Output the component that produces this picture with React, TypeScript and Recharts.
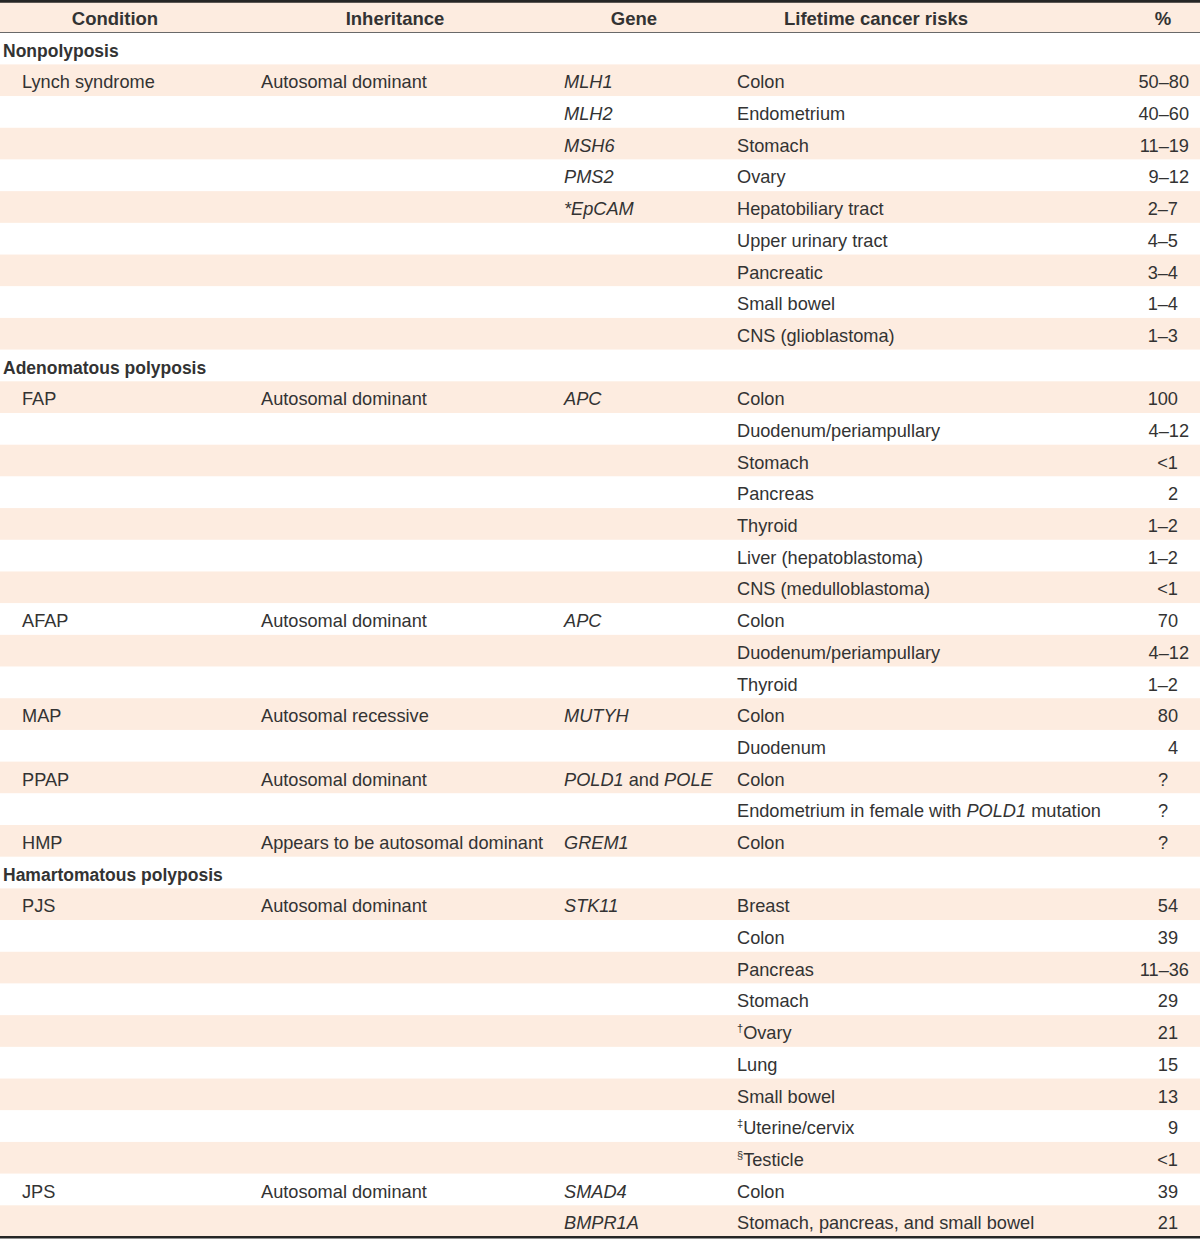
import React from "react";
import { BarChart, Bar, XAxis, YAxis, LabelList } from "recharts";

// ---------- data ----------
const headerLabels = ["Condition", "Inheritance", "Gene", "Lifetime cancer risks", "%"];

const sectionTitles = ["Nonpolyposis", "Adenomatous polyposis", "Hamartomatous polyposis"];

const conditions = [
  "Nonpolyposis", "Lynch syndrome", "", "", "", "", "", "", "", "",
  "Adenomatous polyposis", "FAP", "", "", "", "", "", "",
  "AFAP", "", "", "MAP", "", "PPAP", "", "HMP",
  "Hamartomatous polyposis", "PJS", "", "", "", "", "", "", "", "",
  "JPS", "",
];

const inheritance = [
  "", "Autosomal dominant", "", "", "", "", "", "", "", "",
  "", "Autosomal dominant", "", "", "", "", "", "",
  "Autosomal dominant", "", "", "Autosomal recessive", "", "Autosomal dominant", "", "Appears to be autosomal dominant",
  "", "Autosomal dominant", "", "", "", "", "", "", "", "",
  "Autosomal dominant", "",
];

const genes = [
  "", "_MLH1_", "_MLH2_", "_MSH6_", "_PMS2_", "_*EpCAM_", "", "", "", "",
  "", "_APC_", "", "", "", "", "", "",
  "_APC_", "", "", "_MUTYH_", "", "_POLD1_ and _POLE_", "", "_GREM1_",
  "", "_STK11_", "", "", "", "", "", "", "", "",
  "_SMAD4_", "_BMPR1A_",
];

const risks = [
  "", "Colon", "Endometrium", "Stomach", "Ovary", "Hepatobiliary tract", "Upper urinary tract", "Pancreatic", "Small bowel", "CNS (glioblastoma)",
  "", "Colon", "Duodenum/periampullary", "Stomach", "Pancreas", "Thyroid", "Liver (hepatoblastoma)", "CNS (medulloblastoma)",
  "Colon", "Duodenum/periampullary", "Thyroid", "Colon", "Duodenum", "Colon", "Endometrium in female with _POLD1_ mutation", "Colon",
  "", "Breast", "Colon", "Pancreas", "Stomach", "^†Ovary", "Lung", "Small bowel", "^‡Uterine/cervix", "^§Testicle",
  "Colon", "Stomach, pancreas, and small bowel",
];

const percents = [
  "", "50–80", "40–60", "11–19", "9–12", "2–7", "4–5", "3–4", "1–4", "1–3",
  "", "100", "4–12", "<1", "2", "1–2", "1–2", "<1",
  "70", "4–12", "1–2", "80", "4", "?", "?", "?",
  "", "54", "39", "11–36", "29", "21", "15", "13", "9", "<1",
  "39", "21",
];

// ---------- styling ----------
const FONT = "'Liberation Sans', Arial, sans-serif";
const FS = 18.2;
const FS_HEAD = 18.5;
const FS_SECTION = 17.5;
const TEXT = "#333333";
const STRIPE = "#fdece0";
const RULE = "#262626";

const rows = [
  { key: "header", idx: 0, band: 1 },
  ...conditions.map((_, i) => ({ key: "r" + (i + 1), idx: i + 1, band: 1 })),
];

// column layout
const COL_COND_SECTION = 3;
const COL_COND = 22;
const COL_INH = 261;
const COL_GENE = 564;
const COL_RISK = 737;
const COL_PCT_END = 1178;
const HEADER_CENTERS = [115, 395, 634, 876, 1163];

function renderMarkup(text: string, keyBase: string) {
  const parts = text.split(/(_[^_]+_|\^.)/).filter((p) => p !== "");
  const out: React.ReactNode[] = [];
  let raised = false;
  parts.forEach((p, i) => {
    if (p.startsWith("^")) {
      out.push(
        <tspan key={keyBase + i} fontSize={11} dy={-7}>
          {p.slice(1)}
        </tspan>
      );
      raised = true;
      return;
    }
    const italic = p.startsWith("_") && p.endsWith("_") && p.length > 1;
    const content = italic ? p.slice(1, -1) : p;
    out.push(
      <tspan key={keyBase + i} fontStyle={italic ? "italic" : "normal"} dy={raised ? 7 : undefined}>
        {content}
      </tspan>
    );
    raised = false;
  });
  return out;
}

function RowShape(props: any) {
  const { x, y, width, height, index } = props;
  const fill = index % 2 === 0 ? STRIPE : "#ffffff";
  const last = index === rows.length - 1;
  return (
    <g>
      <rect x={x} y={y} width={width} height={height} fill={fill} />
      {index === 0 && (
        <>
          <line x1={x} x2={x + width} y1={y + 0.4} y2={y + 0.4} stroke={RULE} strokeWidth={2.6} />
          <line x1={x} x2={x + width} y1={y + height} y2={y + height} stroke={RULE} strokeWidth={2} />
        </>
      )}
      {last && <line x1={x} x2={x + width} y1={y + height} y2={y + height} stroke={RULE} strokeWidth={2.4} />}
    </g>
  );
}

function pctEnd(v: string) {
  if (v === "?") return COL_PCT_END - 10;
  const k = v.indexOf("–");
  if (k >= 0) {
    const after = v.slice(k + 1);
    return COL_PCT_END + (after.length - 1) * 11;
  }
  return COL_PCT_END;
}

function RowLabels(props: any) {
  const { x, y, height, value } = props;
  const idx = Number(value);
  const base = y + height / 2 + 8;
  const common = { fontFamily: FONT, fontSize: FS, fill: TEXT };
  if (idx === 0) {
    return (
      <g>
        {headerLabels.map((h, i) => (
          <text
            key={i}
            x={x + HEADER_CENTERS[i]}
            y={base}
            textAnchor="middle"
            fontWeight="bold"
            {...common}
            fontSize={FS_HEAD}
          >
            {h}
          </text>
        ))}
      </g>
    );
  }
  const i = idx - 1;
  const cond = conditions[i];
  const isSection = sectionTitles.includes(cond);
  return (
    <g>
      {cond && (
        <text
          x={x + (isSection ? COL_COND_SECTION : COL_COND)}
          y={base}
          fontWeight={isSection ? "bold" : "normal"}
          {...common}
          fontSize={isSection ? FS_SECTION : FS}
        >
          {cond}
        </text>
      )}
      {inheritance[i] && (
        <text x={x + COL_INH} y={base} {...common}>
          {inheritance[i]}
        </text>
      )}
      {genes[i] && (
        <text x={x + COL_GENE} y={base} {...common}>
          {renderMarkup(genes[i], "g" + i)}
        </text>
      )}
      {risks[i] && (
        <text x={x + COL_RISK} y={base} {...common}>
          {renderMarkup(risks[i], "r" + i)}
        </text>
      )}
      {percents[i] && (
        <text x={x + pctEnd(percents[i])} y={base} textAnchor="end" {...common}>
          {percents[i]}
        </text>
      )}
    </g>
  );
}

export default function App() {
  return (
    <div style={{ position: "absolute", left: 0, top: 0, width: 1200, height: 1239, background: "#fff" }}>
      <BarChart
        width={1200}
        height={1239}
        data={rows}
        layout="vertical"
        margin={{ top: 1, right: 0, bottom: 2, left: 0 }}
        barCategoryGap={0}
      >
        <XAxis type="number" domain={[0, 1]} hide />
        <YAxis type="category" dataKey="key" hide />
        <Bar dataKey="band" isAnimationActive={false} shape={RowShape}>
          <LabelList dataKey="idx" content={RowLabels} />
        </Bar>
      </BarChart>
    </div>
  );
}
